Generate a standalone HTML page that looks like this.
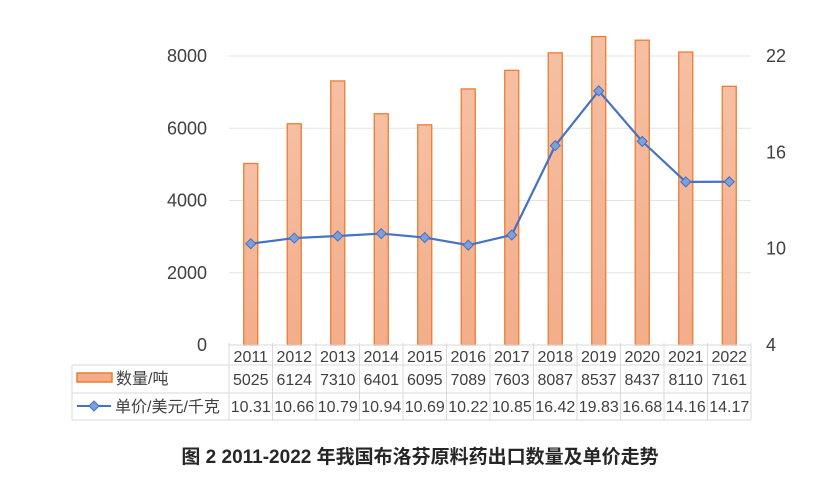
<!DOCTYPE html>
<html><head><meta charset="utf-8"><style>
body{margin:0;background:#fff;}
svg text{font-family:"Liberation Sans","Noto Sans CJK SC",sans-serif;}
</style></head><body>
<svg width="840" height="492" viewBox="0 0 840 492">
<defs><linearGradient id="bg" x1="0" y1="0" x2="0" y2="1"><stop offset="0" stop-color="#f6bfa3"/><stop offset="1" stop-color="#f3ad8a"/></linearGradient></defs>
<g id="grid"></g><g id="bars"></g><g id="line"></g><g id="axes"></g><g id="table"></g>
<text x="420" y="463" text-anchor="middle" font-size="19" font-weight="bold" fill="#262626">图 2 2011-2022 年我国布洛芬原料药出口数量及单价走势</text>
</svg>
<script>
const years=["2011","2012","2013","2014","2015","2016","2017","2018","2019","2020","2021","2022"];
const qty=[5025,6124,7310,6401,6095,7089,7603,8087,8537,8437,8110,7161];
const price=[10.31,10.66,10.79,10.94,10.69,10.22,10.85,16.42,19.83,16.68,14.16,14.17];
const leftTicks=[0,2000,4000,6000,8000];
const rightTicks=[4,10,16,22];
const NS="http://www.w3.org/2000/svg";
const X0=229,X1=751,Y0=345,Y1=56,bw=(X1-X0)/years.length;
const xc=i=>X0+bw*(i+0.5);
const yl=v=>Y0-(v/8000)*(Y0-Y1);
const yr=v=>Y0-((v-4)/18)*(Y0-Y1);
function mk(t,a,p){const e=document.createElementNS(NS,t);for(const k in a)e.setAttribute(k,a[k]);document.getElementById(p).appendChild(e);return e;}
leftTicks.forEach(v=>{
 if(v>0){const g=mk('line',{x1:X0,x2:X1,y1:yl(v),y2:yl(v),stroke:'#e3e3e3','stroke-width':1},'grid');
 
 }
 const t=mk('text',{x:207,y:yl(v)+6,'text-anchor':'end','font-size':18,fill:'#404040'},'axes');t.textContent=v;
 
 
});
rightTicks.forEach(v=>{
 const t=mk('text',{x:766,y:yr(v)+6,'font-size':18,fill:'#404040'},'axes');t.textContent=v;
 
 
});
qty.forEach((v,i)=>{
 const r=mk('rect',{x:xc(i)-7,y:yl(v),width:14,height:Y0-yl(v),fill:'url(#bg)',stroke:'#ed7d31','stroke-width':1.3},'bars');
 
 
});
const pl=mk('polyline',{points:price.map((v,i)=>xc(i)+','+yr(v)).join(' '),fill:'none',stroke:'#4472c4','stroke-width':2.2},'line');


price.forEach((v,i)=>{
 const x=xc(i),y=yr(v);
 const p=mk('polygon',{points:`${x},${y-5} ${x+5},${y} ${x},${y+5} ${x-5},${y}`,fill:'#7f9fd6',stroke:'#4472c4','stroke-width':1},'line');
 
 
});
const TL=72,R1=365,R2=393,R3=420;
[[X0,Y0,X1,Y0],[TL,R1,X1,R1],[TL,R2,X1,R2],[TL,R3,X1,R3],[TL,R1,TL,R3]].forEach(a=>{
 const l=mk('line',{x1:a[0],y1:a[1],x2:a[2],y2:a[3],stroke:'#d9d9d9','stroke-width':1},'table');
 
 
});
for(let i=0;i<=years.length;i++){
 const x=X0+bw*i;
 const l=mk('line',{x1:x,y1:Y0-2,x2:x,y2:R3,stroke:'#d9d9d9','stroke-width':1},'table');
 
 
}
years.forEach((y,i)=>{
 const t=mk('text',{x:xc(i),y:362,'text-anchor':'middle','font-size':16,fill:'#404040'},'table');t.textContent=y;
 
 
 const a=mk('text',{x:xc(i),y:385,'text-anchor':'middle','font-size':16,fill:'#404040'},'table');a.textContent=qty[i];
 
 
 const b=mk('text',{x:xc(i),y:412,'text-anchor':'middle','font-size':16,fill:'#404040'},'table');b.textContent=price[i].toFixed(2);
 
 
});
const lk=mk('rect',{x:77,y:373,width:35,height:9,fill:'#f3ad8a',stroke:'#ed7d31','stroke-width':1.5},'table');


const lt=mk('text',{x:116,y:384,'font-size':16,fill:'#404040'},'table');lt.textContent='数量/吨';


const ll=mk('line',{x1:77,y1:406,x2:111,y2:406,stroke:'#4472c4','stroke-width':2},'table');


const lm=mk('polygon',{points:'94,401 99,406 94,411 89,406',fill:'#7f9fd6',stroke:'#4472c4'},'table');


const lt2=mk('text',{x:115,y:412,'font-size':16,fill:'#404040'},'table');lt2.textContent='单价/美元/千克';


</script>
</body></html>
